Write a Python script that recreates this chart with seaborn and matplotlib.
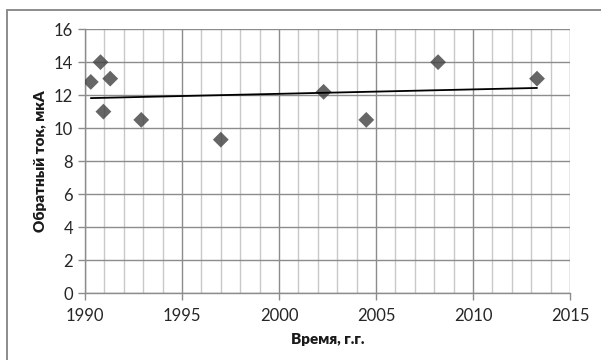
import numpy as np
import pandas as pd
import matplotlib
matplotlib.use("Agg")
import matplotlib.pyplot as plt
import seaborn as sns
from matplotlib.patches import Rectangle
from matplotlib.ticker import MultipleLocator

#data
years = [1990.3, 1990.8, 1990.95, 1991.3, 1992.9, 1997.0, 2002.3, 2004.5, 2008.2, 2013.3]
current = [12.8, 14.0, 11.0, 13.0, 10.5, 9.3, 12.2, 10.5, 14.0, 13.0]
x_ticks = [1990, 1995, 2000, 2005, 2010, 2015]
y_ticks = [0, 2, 4, 6, 8, 10, 12, 14, 16]

df = pd.DataFrame({"year": years, "current": current})

sns.set_style("white")
plt.rcParams['font.family'] = ['Lato', 'DejaVu Sans']

fig = plt.figure(figsize=(6.01, 3.6), dpi=100)
ax = fig.add_axes([0.1414, 0.186, 0.807, 0.733])

#outer chart border (runs off the right and bottom edges)
fig.patches.append(Rectangle((7/601, -0.05), 1.0, 1 - 10/360 + 0.05, transform=fig.transFigure,
                             fill=False, edgecolor="#8c8c8c", linewidth=1.4))

sns.regplot(data=df, x="year", y="current", ax=ax, ci=None, marker="D",
            scatter_kws={"s": 65, "color": "#404040", "edgecolors": "none", "zorder": 3},
            line_kws={"color": "black", "linewidth": 1.3, "zorder": 4})

ax.set_xlim(1990, 2015)
ax.set_ylim(0, 16)
ax.set_xticks(x_ticks)
ax.set_yticks(y_ticks)
ax.xaxis.set_minor_locator(MultipleLocator(1))
ax.grid(which="minor", axis="x", color="#c8c8c8", linewidth=1)
ax.grid(which="major", axis="both", color="#8c8c8c", linewidth=1)
ax.set_axisbelow(True)

for s in ["top", "right"]:
    ax.spines[s].set_visible(False)
for s in ["left", "bottom"]:
    ax.spines[s].set_color("#8c8c8c")
    ax.spines[s].set_linewidth(1)

ax.tick_params(axis="both", which="major", labelsize=12, colors="#8c8c8c",
               labelcolor="#262626", length=5, width=1, direction="out", left=True, bottom=True)
ax.tick_params(axis="x", which="major", pad=6)
ax.tick_params(axis="x", which="minor", length=0)

ax.set_xlabel("Время, г.г.", fontsize=11, fontweight="heavy", color="#1a1a1a", labelpad=6)
ax.set_ylabel("Обратный ток, мкА", fontsize=11, fontweight="heavy", color="#1a1a1a", labelpad=5)

fig.savefig("out.png", dpi=100)
plt.close()
